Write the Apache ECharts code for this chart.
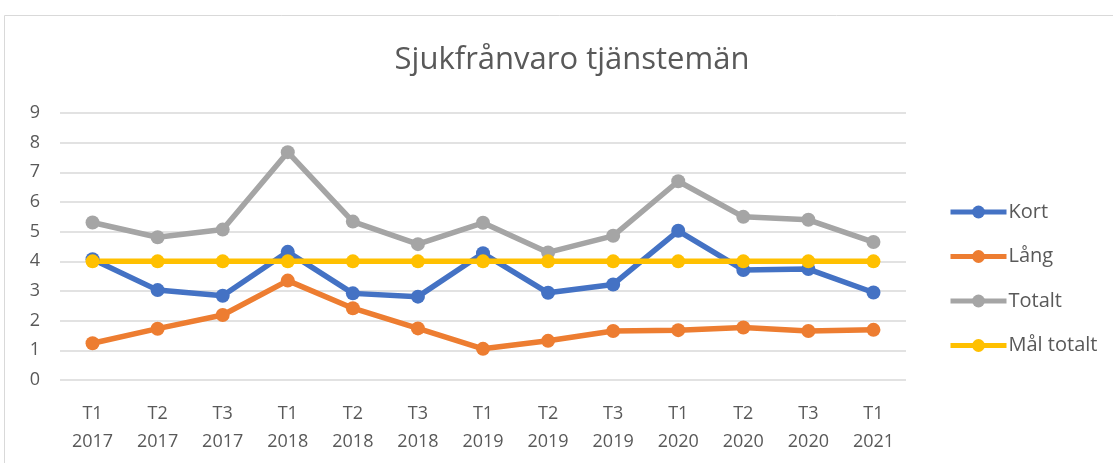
<!DOCTYPE html>
<html>
<head>
<meta charset="utf-8">
<script src="https://cdn.jsdelivr.net/npm/echarts@6/dist/echarts.min.js"></script>
<style>
  html, body { margin: 0; padding: 0; background: #fff; }
  #chart { width: 1113px; height: 463px; }
</style>
</head>
<body>
<div id="chart"></div>
<script>
// categories: period + year
const categories = [
  "T1\n2017", "T2\n2017", "T3\n2017",
  "T1\n2018", "T2\n2018", "T3\n2018",
  "T1\n2019", "T2\n2019", "T3\n2019",
  "T1\n2020", "T2\n2020", "T3\n2020",
  "T1\n2021"
];
const kort = [4.07, 3.03, 2.84, 4.32, 2.92, 2.81, 4.27, 2.94, 3.22, 5.03, 3.71, 3.74, 2.95];
const lang = [1.24, 1.73, 2.19, 3.35, 2.42, 1.74, 1.05, 1.32, 1.65, 1.68, 1.77, 1.65, 1.69];
const totalt = [5.31, 4.81, 5.07, 7.68, 5.34, 4.58, 5.30, 4.30, 4.86, 6.70, 5.50, 5.40, 4.65];
const malTotalt = [4, 4, 4, 4, 4, 4, 4, 4, 4, 4, 4, 4, 4];

const textColor = "#595959";
const font = "'Open Sans', 'Noto Sans', sans-serif";

function lineSeries(name, data, color) {
  return {
    name: name,
    type: "line",
    data: data,
    symbol: "circle",
    symbolSize: 14,
    lineStyle: { width: 5.5, color: color },
    itemStyle: { color: color },
    emphasis: { disabled: true },
  };
}

const chart = echarts.init(document.getElementById("chart"));
chart.setOption({
  animation: false,
  textStyle: { fontFamily: font },
  title: {
    text: "Sjukfrånvaro tjänstemän",
    left: 567,
    textAlign: "center",
    top: 40,
    textStyle: { fontSize: 31, fontWeight: "normal", color: textColor, fontFamily: font },
  },
  graphic: [
    {
      type: "rect",
      shape: { x: 4.5, y: 15.5, width: 1200, height: 600 },
      style: { fill: "none", stroke: "#d9d9d9", lineWidth: 1 },
      silent: true,
    },
  ],
  legend: {
    orient: "vertical",
    left: 943,
    top: 197,
    itemWidth: 56,
    itemHeight: 16,
    itemGap: 24.5,
    lineStyle: { width: 5 },
    textStyle: { fontSize: 20, color: textColor, fontFamily: font, padding: [0, 0, 0, -3] },
    data: ["Kort", "Lång", "Totalt", "Mål totalt"],
  },
  grid: { left: 60, right: 207, top: 113, bottom: 83 },
  xAxis: {
    type: "category",
    data: categories,
    boundaryGap: true,
    axisLine: { show: false },
    axisTick: { show: false },
    axisLabel: {
      interval: 0,
      margin: 20,
      fontSize: 18,
      lineHeight: 28,
      color: textColor,
      fontFamily: font,
    },
  },
  yAxis: {
    type: "value",
    min: 0,
    max: 9,
    interval: 1,
    axisLine: { show: false },
    axisTick: { show: false },
    axisLabel: { fontSize: 18, color: textColor, margin: 20, fontFamily: font },
    splitLine: { lineStyle: { color: "#d9d9d9", width: 1.5 } },
  },
  series: [
    lineSeries("Kort", kort, "#4472c4"),
    lineSeries("Lång", lang, "#ed7d31"),
    lineSeries("Totalt", totalt, "#a5a5a5"),
    lineSeries("Mål totalt", malTotalt, "#ffc000"),
  ],
});
</script>
</body>
</html>
